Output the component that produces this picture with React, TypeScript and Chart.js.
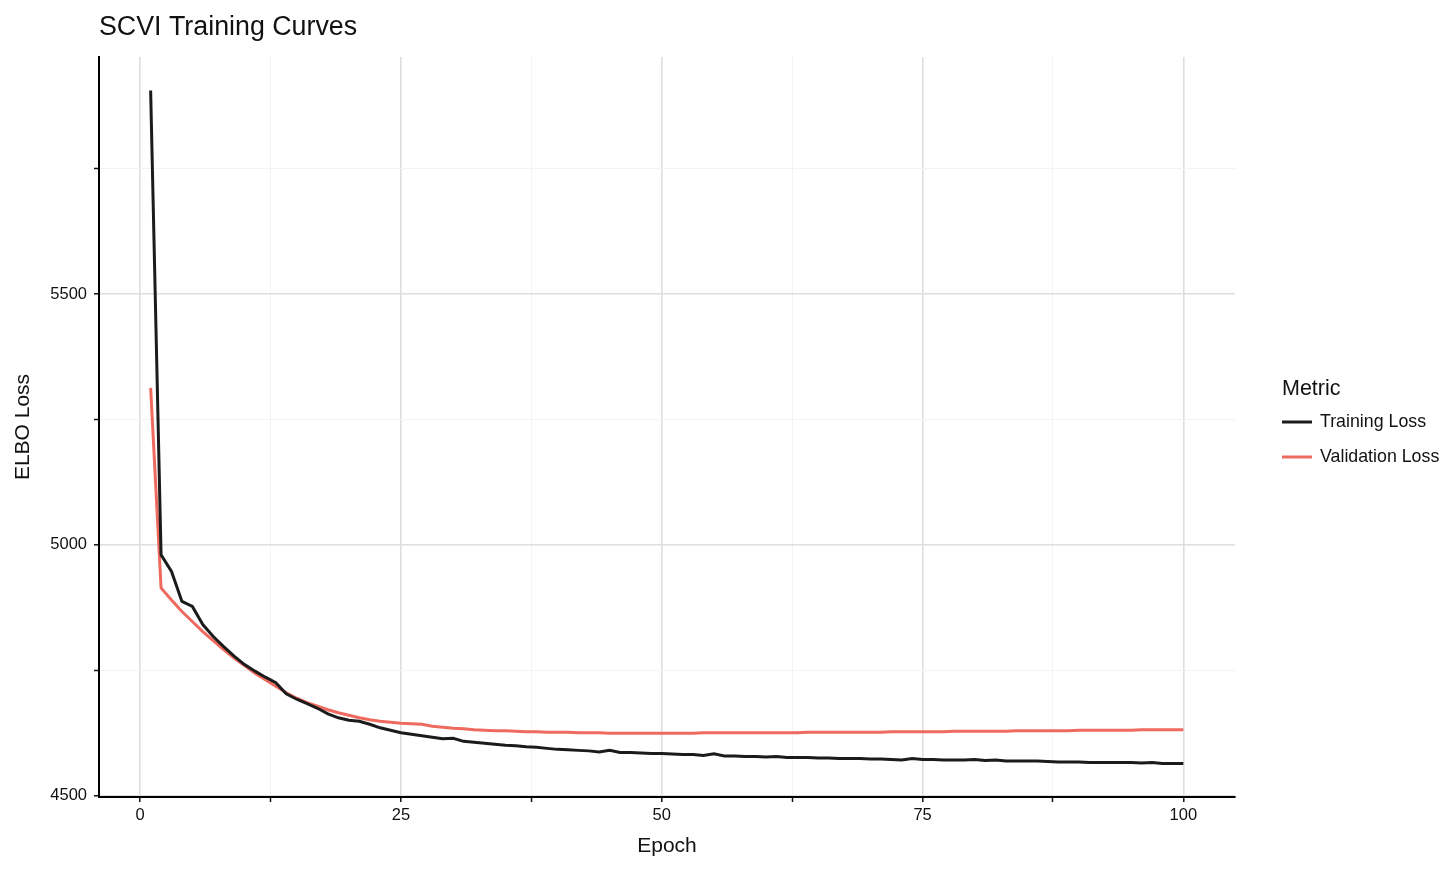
import React, { useEffect, useRef } from "react";
import { Chart, registerables } from "chart.js";

Chart.register(...registerables);

const CHART_TITLE = "SCVI Training Curves";
const X_TITLE = "Epoch";
const Y_TITLE = "ELBO Loss";
const LEGEND_TITLE = "Metric";
const SERIES_NAMES = ["Training Loss", "Validation Loss"];
const SERIES_COLORS = ["#1b1b1b", "#EE6A5F"];

const EPOCHS = Array.from({ length: 100 }, (_, i) => i + 1);

const TRAINING_LOSS = [
  5906, 4980, 4947, 4887, 4877, 4841, 4817, 4797, 4778, 4761,
  4748, 4736, 4725, 4703, 4692, 4683, 4674, 4663, 4655, 4650,
  4648, 4642, 4635, 4630, 4625, 4622, 4619, 4616, 4613, 4614,
  4608, 4606, 4604, 4602, 4600, 4599, 4597, 4596, 4594, 4592,
  4591, 4590, 4589, 4587, 4590, 4586, 4586, 4585, 4584, 4584,
  4583, 4582, 4582, 4580, 4583, 4579, 4579, 4578, 4578, 4577,
  4578, 4576, 4576, 4576, 4575, 4575, 4574, 4574, 4574, 4573,
  4573, 4572, 4571, 4574, 4572, 4572, 4571, 4571, 4571, 4572,
  4570, 4571, 4569, 4569, 4569, 4569, 4568, 4567, 4567, 4567,
  4566, 4566, 4566, 4566, 4566, 4565, 4566, 4564, 4564, 4564,
];

const VALIDATION_LOSS = [
  5313, 4914, 4890, 4867, 4847, 4827, 4809, 4791, 4774, 4759,
  4744, 4731, 4718, 4705, 4694, 4685, 4678, 4671, 4665, 4660,
  4655, 4651, 4648, 4646, 4644, 4643, 4642, 4638, 4636, 4634,
  4633, 4631, 4630, 4629, 4629, 4628, 4627, 4627, 4626, 4626,
  4626, 4625, 4625, 4625, 4624, 4624, 4624, 4624, 4624, 4624,
  4624, 4624, 4624, 4625, 4625, 4625, 4625, 4625, 4625, 4625,
  4625, 4625, 4625, 4626, 4626, 4626, 4626, 4626, 4626, 4626,
  4626, 4627, 4627, 4627, 4627, 4627, 4627, 4628, 4628, 4628,
  4628, 4628, 4628, 4629, 4629, 4629, 4629, 4629, 4629, 4630,
  4630, 4630, 4630, 4630, 4630, 4631, 4631, 4631, 4631, 4631,
];

const X_TICKS = [0, 12.5, 25, 37.5, 50, 62.5, 75, 87.5, 100];
const X_LABELED = [0, 25, 50, 75, 100];
const Y_TICKS = [4500, 4750, 5000, 5250, 5500, 5750];
const Y_LABELED = [4500, 5000, 5500];

const FONT = "'Liberation Sans', Arial, Helvetica, sans-serif";
const MAJOR_GRID = "#dedede";
const MINOR_GRID = "#f3f3f3";

const titlePlugin = {
  id: "customTitle",
  afterDraw(chart: any) {
    const ctx = chart.ctx;
    ctx.save();
    ctx.font = `26.8px ${FONT}`;
    ctx.fillStyle = "#111111";
    ctx.textAlign = "left";
    ctx.textBaseline = "alphabetic";
    ctx.fillText(CHART_TITLE, chart.chartArea.left, 35);
    ctx.restore();
  },
};

const legendPlugin = {
  id: "customLegend",
  afterDraw(chart: any) {
    const ctx = chart.ctx;
    const x0 = chart.chartArea.right + 47;
    ctx.save();
    ctx.fillStyle = "#111111";
    ctx.textAlign = "left";
    ctx.textBaseline = "alphabetic";
    ctx.font = `21.5px ${FONT}`;
    ctx.fillText(LEGEND_TITLE, x0, 395);
    chart.data.datasets.forEach((ds: any, i: number) => {
      const y = 422 + 35 * i;
      ctx.strokeStyle = ds.borderColor;
      ctx.lineWidth = 3;
      ctx.beginPath();
      ctx.moveTo(x0, y);
      ctx.lineTo(x0 + 30, y);
      ctx.stroke();
      ctx.font = `17.8px ${FONT}`;
      ctx.textBaseline = "middle";
      ctx.fillStyle = "#111111";
      ctx.fillText(ds.label, x0 + 38, y);
    });
    ctx.restore();
  },
};

export default function App() {
  const canvasRef = useRef<HTMLCanvasElement | null>(null);

  useEffect(() => {
    if (!canvasRef.current) return;
    Chart.defaults.font.family = FONT;
    const chart = new Chart(canvasRef.current, {
      type: "line",
      data: {
        datasets: [
          {
            label: SERIES_NAMES[0],
            data: EPOCHS.map((e, i) => ({ x: e, y: TRAINING_LOSS[i] })),
            borderColor: SERIES_COLORS[0],
            backgroundColor: SERIES_COLORS[0],
            borderWidth: 3,
            pointRadius: 0,
            tension: 0,
          },
          {
            label: SERIES_NAMES[1],
            data: EPOCHS.map((e, i) => ({ x: e, y: VALIDATION_LOSS[i] })),
            borderColor: SERIES_COLORS[1],
            backgroundColor: SERIES_COLORS[1],
            borderWidth: 3,
            pointRadius: 0,
            tension: 0,
          },
        ],
      },
      options: {
        animation: false,
        responsive: true,
        maintainAspectRatio: false,
        layout: { padding: { top: 57, right: 221, bottom: 0, left: 0 } },
        plugins: {
          legend: { display: false },
          tooltip: { enabled: false },
          title: { display: false },
        },
        scales: {
          x: {
            type: "linear",
            min: -3.95,
            max: 104.95,
            afterBuildTicks: (s: any) => {
              s.ticks = X_TICKS.map((v) => ({ value: v }));
            },
            afterFit: (s: any) => {
              s.height = 77;
            },
            ticks: {
              autoSkip: false,
              maxRotation: 0,
              padding: 4,
              color: "#111111",
              font: { size: 16.5 },
              callback: (v: any) => (X_LABELED.includes(Number(v)) ? String(v) : ""),
            },
            grid: {
              color: (c: any) => (X_LABELED.includes(c.tick?.value) ? MAJOR_GRID : MINOR_GRID),
              lineWidth: (c: any) => (X_LABELED.includes(c.tick?.value) ? 1.6 : 1),
              tickColor: "#111111",
              tickWidth: 1.5,
              tickLength: 5,
            },
            border: { display: true, color: "#000000", width: 2 },
            title: {
              display: true,
              text: X_TITLE,
              color: "#111111",
              font: { size: 21 },
              padding: { top: 0, bottom: 15.6 },
            },
          },
          y: {
            type: "linear",
            min: 4497,
            max: 5973,
            afterBuildTicks: (s: any) => {
              s.ticks = Y_TICKS.map((v) => ({ value: v }));
            },
            afterFit: (s: any) => {
              s.width = 99;
            },
            ticks: {
              autoSkip: false,
              padding: 7,
              color: "#111111",
              font: { size: 16.5 },
              callback: (v: any) => (Y_LABELED.includes(Number(v)) ? String(v) : ""),
            },
            grid: {
              color: (c: any) => (Y_LABELED.includes(c.tick?.value) ? MAJOR_GRID : MINOR_GRID),
              lineWidth: (c: any) => (Y_LABELED.includes(c.tick?.value) ? 1.6 : 1),
              tickColor: "#111111",
              tickWidth: 1.5,
              tickLength: 5,
            },
            border: { display: true, color: "#000000", width: 2 },
            title: {
              display: true,
              text: Y_TITLE,
              color: "#111111",
              font: { size: 21 },
              padding: { top: 10.6, bottom: 0 },
            },
          },
        },
      },
      plugins: [titlePlugin, legendPlugin],
    });
    return () => chart.destroy();
  }, []);

  return (
    <div style={{ position: "fixed", left: 0, top: 0, width: 1456, height: 874, background: "#ffffff" }}>
      <canvas ref={canvasRef} />
    </div>
  );
}
